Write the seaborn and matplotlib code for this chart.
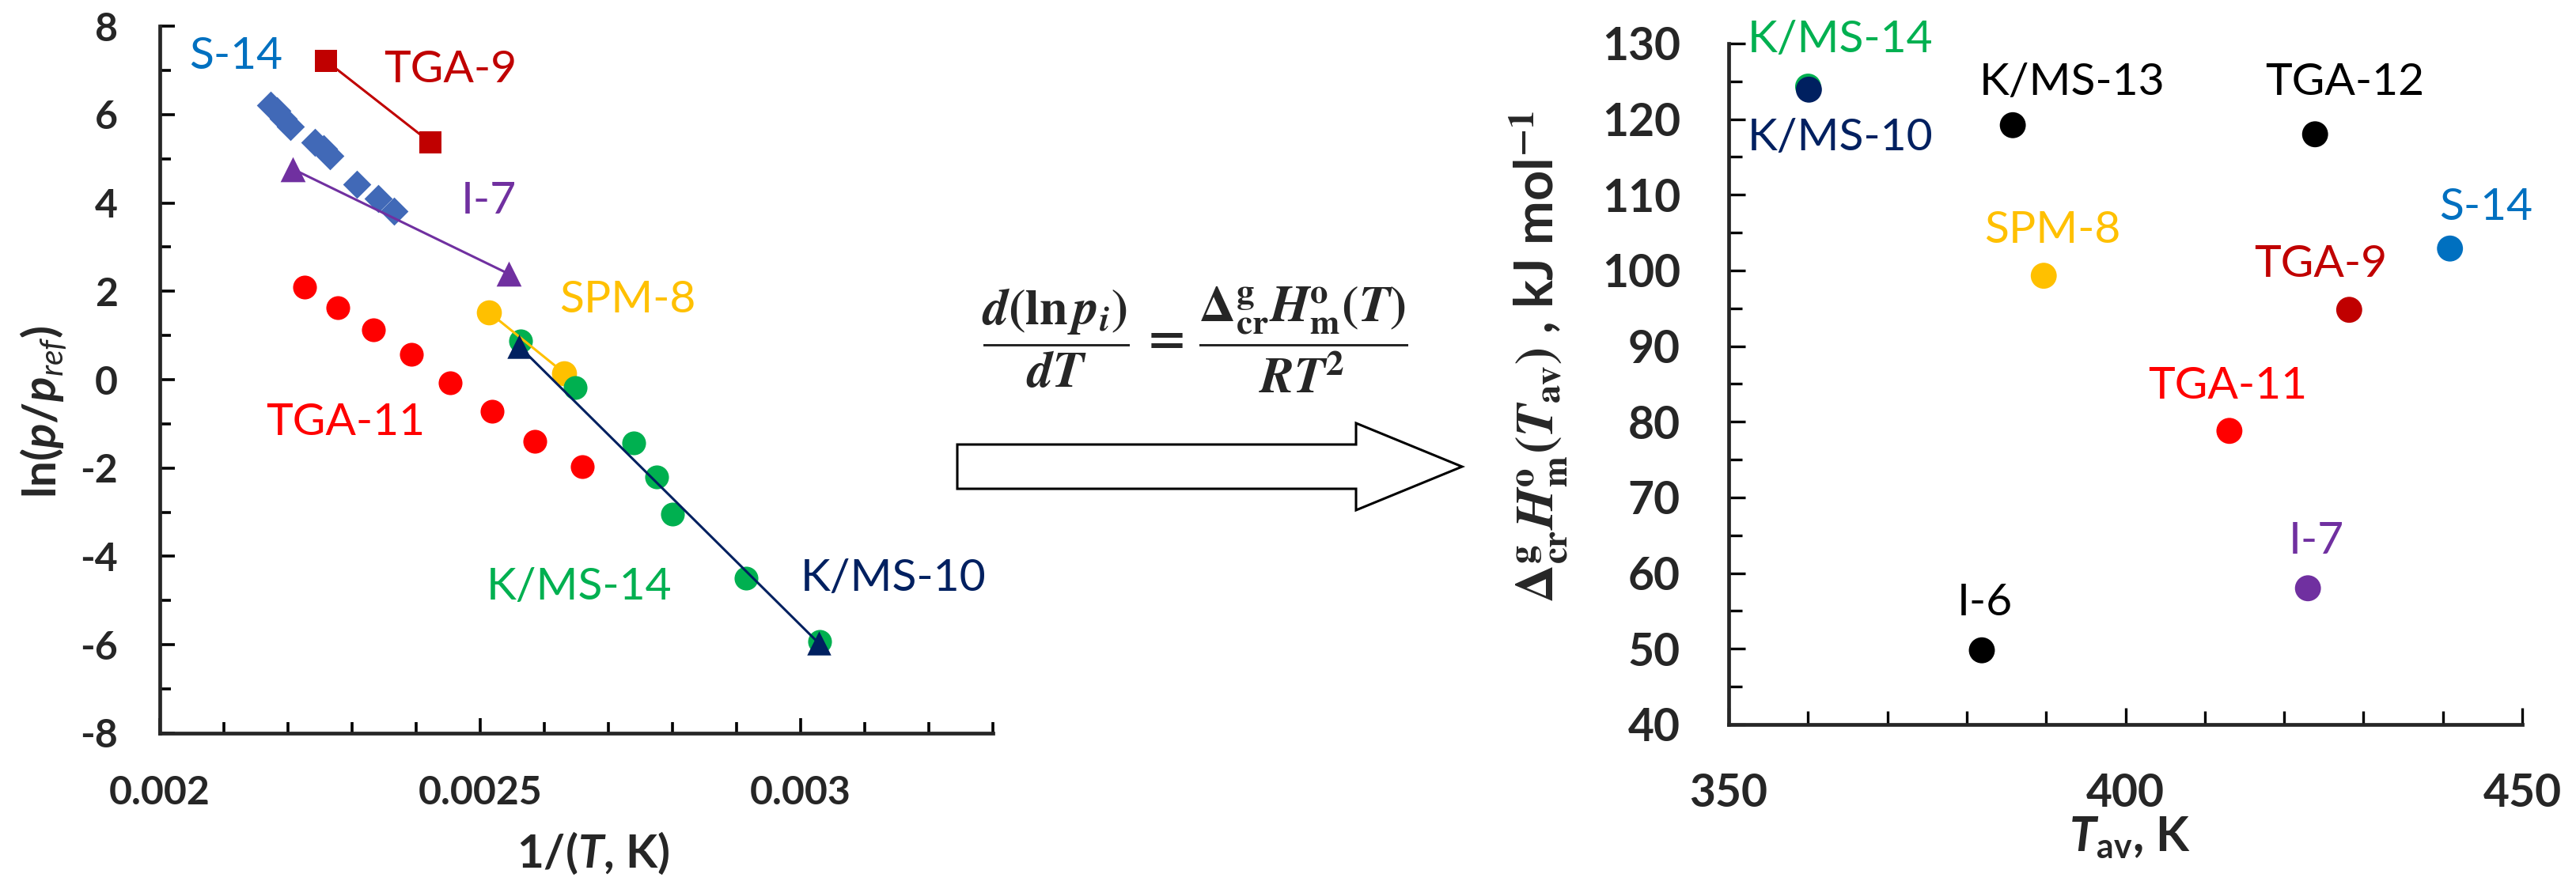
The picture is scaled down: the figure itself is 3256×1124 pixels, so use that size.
import pandas as pd
import matplotlib as mpl
import matplotlib.pyplot as plt
from matplotlib.patches import FancyArrow
from matplotlib.ticker import MultipleLocator, FuncFormatter
import seaborn as sns

# ---- left panel: ln(p/p_ref) against 1/T ----
tga9_x = [0.002259, 0.002422]
tga9_y = [7.22, 5.37]
s14_x = [0.0021725, 0.0021827, 0.002193, 0.0022033, 0.002242, 0.002255, 0.002265, 0.002308, 0.002341, 0.002366]
s14_y = [6.21, 6.09, 5.91, 5.73, 5.37, 5.22, 5.07, 4.42, 4.09, 3.82]
i7_x = [0.002207, 0.002545]
i7_y = [4.77, 2.39]
tga11_x = [0.002226, 0.002278, 0.002333, 0.002393, 0.002453, 0.002519, 0.002585, 0.002659]
tga11_y = [2.09, 1.63, 1.13, 0.57, -0.07, -0.71, -1.40, -1.96]
spm8_x = [0.002514, 0.002631]
spm8_y = [1.52, 0.15]
kms14_x = [0.002563, 0.002648, 0.002740, 0.002775, 0.002800, 0.002915, 0.003030]
kms14_y = [0.87, -0.18, -1.43, -2.20, -3.04, -4.50, -5.93]
kms10_x = [0.002561, 0.003028]
kms10_y = [0.75, -5.96]

# ---- right panel: sublimation enthalpy against T_av ----
methods = ["K/MS-14", "K/MS-10", "K/MS-13", "TGA-12", "S-14", "SPM-8", "TGA-9", "TGA-11", "I-7", "I-6"]
t_av = [360.0, 360.1, 385.8, 423.9, 440.9, 389.7, 428.2, 413.1, 423.0, 381.9]
dh_sub = [124.3, 123.9, 119.2, 118.0, 102.9, 99.3, 94.8, 78.8, 58.0, 49.8]

colors = {"K/MS-14": "#00B050", "K/MS-10": "#002060", "K/MS-13": "black", "TGA-12": "black",
          "S-14": "#0070C0", "SPM-8": "#FFC000", "TGA-9": "#C00000", "TGA-11": "#FF0000",
          "I-7": "#7030A0", "I-6": "black"}

sns.set_style("ticks")
plt.rcParams['font.family'] = ['Lato', 'DejaVu Sans']
plt.rcParams['axes.unicode_minus'] = False
plt.rcParams['mathtext.fontset'] = 'custom'
plt.rcParams['mathtext.rm'] = 'Lato:bold'
plt.rcParams['mathtext.it'] = 'Lato:italic'
plt.rcParams['mathtext.bf'] = 'Lato:bold'
if 'mathtext.bfit' in plt.rcParams:
    plt.rcParams['mathtext.bfit'] = 'Lato:italic:bold'

fig = plt.figure(figsize=(32.56, 11.24), dpi=100)
ax1 = fig.add_axes([0.06204, 0.1753, 0.3234, 0.7953])
ax2 = fig.add_axes([0.6711, 0.1851, 0.3080, 0.7660])

circ = 470
sns.scatterplot(x=tga11_x, y=tga11_y, color="#FF0000", s=circ, linewidth=0, ax=ax1)
sns.scatterplot(x=s14_x, y=s14_y, color="#4169B7", marker="D", s=330, linewidth=0, ax=ax1)
sns.lineplot(x=tga9_x, y=tga9_y, color="#C00000", lw=2.2, sort=False, estimator=None, ax=ax1)
sns.scatterplot(x=tga9_x, y=tga9_y, color="#C00000", marker="s", s=400, linewidth=0, ax=ax1)
sns.lineplot(x=i7_x, y=i7_y, color="#7030A0", lw=2.2, sort=False, estimator=None, ax=ax1)
sns.scatterplot(x=i7_x, y=i7_y, color="#7030A0", marker="^", s=520, linewidth=0, ax=ax1)
sns.lineplot(x=spm8_x, y=spm8_y, color="#FFC000", lw=2.2, sort=False, estimator=None, ax=ax1)
sns.scatterplot(x=spm8_x, y=spm8_y, color="#FFC000", s=520, linewidth=0, ax=ax1)
sns.scatterplot(x=kms14_x, y=kms14_y, color="#00B050", s=circ, linewidth=0, ax=ax1)
sns.lineplot(x=kms10_x, y=kms10_y, color="#002060", lw=2.2, sort=False, estimator=None, ax=ax1)
sns.scatterplot(x=kms10_x, y=kms10_y, color="#002060", marker="^", s=480, linewidth=0, ax=ax1, zorder=3)

left_labels = [("S-14", 0.002119, 7.31, "#0070C0"), ("TGA-9", 0.002454, 7.01, "#C00000"),
               ("I-7", 0.002514, 4.03, "#7030A0"), ("SPM-8", 0.00273, 1.8, "#FFC000"),
               ("TGA-11", 0.00229, -0.98, "#FF0000"), ("K/MS-14", 0.002655, -4.7, "#00B050"),
               ("K/MS-10", 0.003144, -4.5, "#002060")]
for txt, x, y, c in left_labels:
    ax1.text(x, y, txt, color=c, fontsize=41, ha="center", va="center")

ax1.set_xlim(0.002, 0.0033)
ax1.set_ylim(-8, 8)
ax1.xaxis.set_major_locator(MultipleLocator(0.0005))
ax1.xaxis.set_minor_locator(MultipleLocator(0.0001))
ax1.xaxis.set_major_formatter(FuncFormatter(lambda v, p: f"{v:g}"))
ax1.yaxis.set_major_locator(MultipleLocator(2))
ax1.yaxis.set_minor_locator(MultipleLocator(1))
ax1.tick_params(which="both", direction="in", width=2.6, color="black")
ax1.tick_params(which="major", length=14, labelsize=36, pad=38)
ax1.tick_params(which="minor", length=10)
for lab in ax1.get_xticklabels() + ax1.get_yticklabels():
    lab.set_fontweight("bold")
ax1.set_ylabel(r"ln($\mathbfit{p}$/$\mathbfit{p}_{\mathit{ref}}$)", fontsize=42, fontweight="bold", va="center")
ax1.yaxis.set_label_coords(-0.1406, 0.454)
ax1.set_xlabel(r"1/($\mathbfit{T}$, K)", fontsize=42, fontweight="bold", va="center")
ax1.xaxis.set_label_coords(0.52, -0.170)

# right panel
sns.scatterplot(x=t_av, y=dh_sub, hue=methods, palette=colors, s=560, linewidth=0, legend=False, ax=ax2)
label_pos = [(364.1, 130.5), (364.1, 117.5), (393.3, 124.8), (427.6, 124.8), (445.4, 108.3),
             (390.8, 105.3), (424.6, 100.8), (412.9, 84.7), (424.1, 64.2), (382.3, 56.0)]
for m, (x, y) in zip(methods, label_pos):
    ax2.text(x, y, m, color=colors[m], fontsize=41, ha="center", va="center", clip_on=False)

ax2.set_xlim(350, 450)
ax2.set_ylim(40, 130)
ax2.xaxis.set_major_locator(MultipleLocator(50))
ax2.xaxis.set_minor_locator(MultipleLocator(10))
ax2.yaxis.set_major_locator(MultipleLocator(10))
ax2.yaxis.set_minor_locator(MultipleLocator(5))
ax2.tick_params(which="both", direction="in", width=2.4, color="black")
ax2.tick_params(which="major", length=15, labelsize=41, pad=44)
ax2.tick_params(which="minor", length=12)
for lab in ax2.get_xticklabels() + ax2.get_yticklabels():
    lab.set_fontweight("bold")
ax2.set_ylabel(r"$\mathbf{\Delta}_{\mathbf{cr}}^{\mathbf{g}}\mathbfit{H}_{\mathbf{m}}^{\mathbf{o}}\mathbf{(}\mathbfit{T}_{\mathbf{av}}\mathbf{)}$ , kJ mol$^{\mathbf{-1}}$",
               fontsize=48, fontweight="bold", va="center", math_fontfamily="stix")
ax2.yaxis.set_label_coords(-0.2393, 0.540)
ax2.set_xlabel(r"$\mathbfit{T}_{\mathbf{av}}$, K", fontsize=44, fontweight="bold", va="center")
ax2.xaxis.set_label_coords(0.505, -0.166)

for ax in (ax1, ax2):
    sns.despine(ax=ax)
    ax.spines["left"].set_linewidth(3.4)
    ax.spines["bottom"].set_linewidth(3.4)

# equation and block arrow between the panels
fig.text(15.1 / 32.56, 1 - 429 / 1124,
         r"$\dfrac{\mathbfit{d}\mathbf{(ln}\,\mathbfit{p}_{\mathbfit{i}}\mathbf{)}}{\mathbfit{dT}}\,\mathbf{=}\,"
         r"\dfrac{\mathbf{\Delta}_{\mathbf{cr}}^{\mathbf{g}}\mathbfit{H}_{\mathbf{m}}^{\mathbf{o}}\mathbf{(}\mathbfit{T}\mathbf{)}}{\mathbfit{RT}^{\mathbf{2}}}$",
         fontsize=46, ha="center", va="center", math_fontfamily="stix")
arrow = FancyArrow(12.10, 5.34, 6.38, 0, width=0.56, head_width=1.10, head_length=1.34,
                   length_includes_head=True, fc="white", ec="black", lw=2.2,
                   transform=fig.dpi_scale_trans)
fig.patches.append(arrow)

plt.savefig("out.png", dpi=100)
